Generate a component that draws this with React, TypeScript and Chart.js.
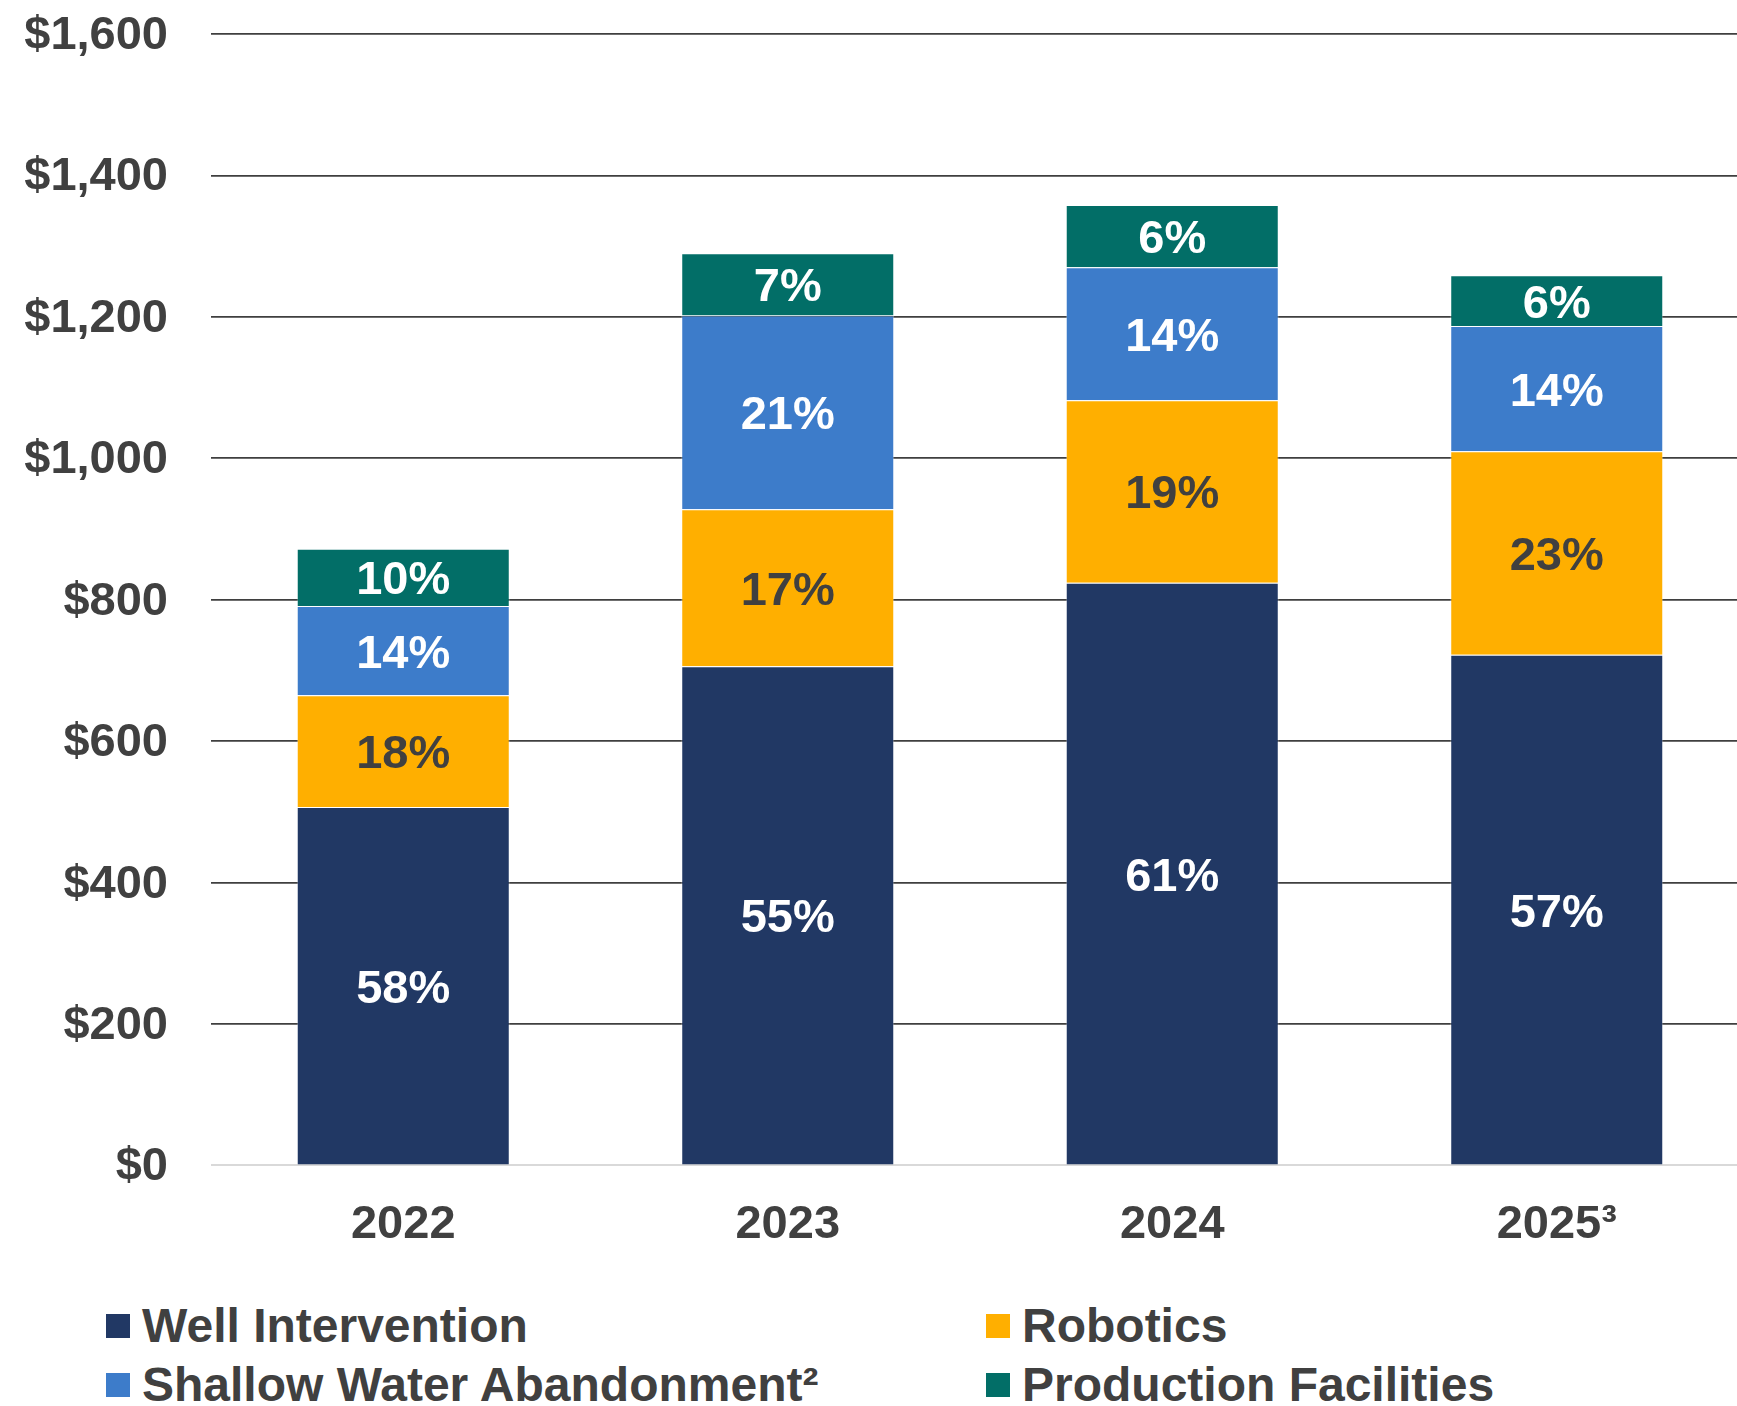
import React, { useEffect, useRef } from "react";
import { Chart, registerables } from "chart.js";

Chart.register(...registerables);

const categories = ["2022", "2023", "2024", "2025\u00B3"];

const wellIntervention = [507, 706, 824, 722];
const robotics = [158, 222, 258, 288];
const shallowWater = [126, 274, 188, 177];
const productionFacilities = [81, 88, 88, 72];

const wellPct = ["58%", "55%", "61%", "57%"];
const roboticsPct = ["18%", "17%", "19%", "23%"];
const shallowPct = ["14%", "21%", "14%", "14%"];
const productionPct = ["10%", "7%", "6%", "6%"];

const seriesNames = [
  "Well Intervention",
  "Robotics",
  "Shallow Water Abandonment\u00B2",
  "Production Facilities",
];

const COLORS = {
  well: "#213864",
  robotics: "#FFAF00",
  shallow: "#3D7CCA",
  production: "#026E67",
  text: "#404040",
};

const FONT = '"Liberation Sans", Arial, Helvetica, sans-serif';

const pctLabelPlugin = {
  id: "pctLabels",
  afterDatasetsDraw(chart: any) {
    const ctx = chart.ctx;
    const labelSets = [wellPct, roboticsPct, shallowPct, productionPct];
    const colors = ["#FFFFFF", COLORS.text, "#FFFFFF", "#FFFFFF"];
    ctx.save();
    ctx.font = `bold 47px ${FONT}`;
    ctx.textAlign = "center";
    ctx.textBaseline = "middle";
    chart.data.datasets.forEach((_ds: any, di: number) => {
      const meta = chart.getDatasetMeta(di);
      meta.data.forEach((bar: any, i: number) => {
        const { x, y, base } = bar.getProps(["x", "y", "base"], true);
        ctx.fillStyle = colors[di];
        ctx.fillText(labelSets[di][i], x, (y + base) / 2 + 4);
      });
    });
    ctx.restore();
  },
};

function ChartCanvas() {
  const ref = useRef<HTMLCanvasElement | null>(null);
  useEffect(() => {
    if (!ref.current) return;
    const chart = new Chart(ref.current, {
      type: "bar",
      data: {
        labels: categories,
        datasets: [
          { label: seriesNames[0], data: wellIntervention, backgroundColor: COLORS.well },
          { label: seriesNames[1], data: robotics, backgroundColor: COLORS.robotics },
          { label: seriesNames[2], data: shallowWater, backgroundColor: COLORS.shallow },
          { label: seriesNames[3], data: productionFacilities, backgroundColor: COLORS.production },
        ].map((d) => ({
          ...d,
          borderColor: "rgba(255,255,255,0.35)",
          borderWidth: 1,
          categoryPercentage: 1,
          barPercentage: 0.554,
        })),
      },
      options: {
        responsive: false,
        animation: false,
        devicePixelRatio: 1,
        layout: { padding: { top: 34, right: 0, bottom: 0, left: 0 } },
        plugins: {
          legend: { display: false },
          tooltip: { enabled: false },
          title: { display: false },
        },
        scales: {
          x: {
            stacked: true,
            grid: { display: false, drawTicks: false },
            border: { display: false },
            ticks: {
              color: COLORS.text,
              font: { family: FONT, size: 47, weight: "bold" },
              padding: 31,
            },
            afterFit: (scale: any) => {
              scale.height = 85.6;
              scale.paddingLeft = 0;
              scale.paddingRight = 0;
            },
          },
          y: {
            stacked: true,
            min: 0,
            max: 1600,
            grid: {
              drawTicks: false,
              color: (c: any) => (c.tick && c.tick.value === 0 ? "#D9D9D9" : "#3F3F3F"),
              lineWidth: (c: any) => (c.tick && c.tick.value === 0 ? 2 : 1.8),
            },
            border: { display: false },
            ticks: {
              stepSize: 200,
              padding: 43,
              labelOffset: 2,
              color: COLORS.text,
              font: { family: FONT, size: 47, weight: "bold" },
              callback: (v: any) => "$" + Number(v).toLocaleString("en-US"),
            },
            afterFit: (scale: any) => {
              scale.width = 211;
              scale.paddingTop = 0;
              scale.paddingBottom = 0;
            },
          },
        },
      },
      plugins: [pctLabelPlugin],
    });
    return () => chart.destroy();
  }, []);
  return (
    <canvas
      ref={ref}
      width={1749}
      height={1251}
      style={{ position: "absolute", left: 0, top: 0, width: 1749, height: 1251 }}
    />
  );
}

const legendItems = [
  { name: seriesNames[0], color: COLORS.well, left: 106, cy: 1326 },
  { name: seriesNames[1], color: COLORS.robotics, left: 986, cy: 1326 },
  { name: seriesNames[2], color: COLORS.shallow, left: 106, cy: 1385 },
  { name: seriesNames[3], color: COLORS.production, left: 986, cy: 1385 },
];

export default function App() {
  return (
    <div
      style={{
        position: "absolute",
        left: 0,
        top: 0,
        width: 1737,
        height: 1406,
        overflow: "hidden",
        background: "#FFFFFF",
      }}
    >
      <ChartCanvas />
      {legendItems.map((it) => (
        <div
          key={it.name}
          style={{
            position: "absolute",
            left: it.left,
            top: it.cy - 30,
            height: 60,
            display: "flex",
            alignItems: "center",
            whiteSpace: "nowrap",
          }}
        >
          <div style={{ width: 24, height: 24, background: it.color, marginRight: 12 }} />
          <span
            style={{
              fontFamily: FONT,
              fontWeight: "bold",
              fontSize: 48,
              lineHeight: 1,
              color: COLORS.text,
            }}
          >
            {it.name}
          </span>
        </div>
      ))}
    </div>
  );
}
